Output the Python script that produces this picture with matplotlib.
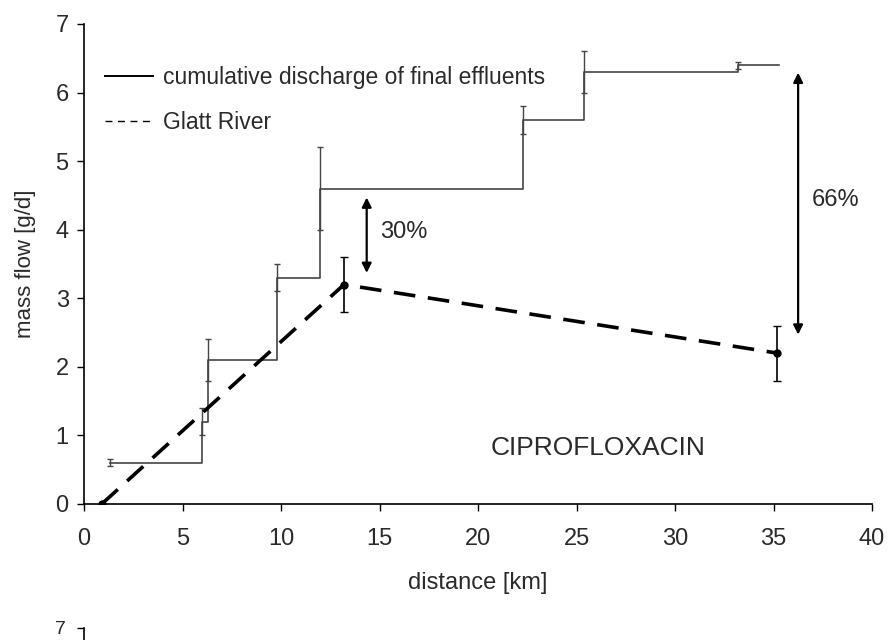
import matplotlib
matplotlib.use('Agg')
from matplotlib import pyplot as plt
from matplotlib.lines import Line2D

# cumulative discharge of final effluents (step line), sources along the river
src_km = [1.3, 6.0, 6.3, 9.8, 12.0, 22.3, 25.4, 33.2, 35.3]
cum_flow = [0.6, 1.2, 2.1, 3.3, 4.6, 5.6, 6.3, 6.4, 6.4]
cum_err = [0.05, 0.2, 0.3, 0.2, 0.6, 0.2, 0.3, 0.05, 0.0]

# Glatt River measurements
river_km = [0.9, 13.2, 35.2]
river_flow = [0.0, 3.2, 2.2]
river_err = [0.0, 0.4, 0.4]

# difference arrows: (x, y_top, y_bottom, label)
arrows = [(14.35, 4.47, 3.37, '30%'), (36.25, 6.29, 2.47, '66%')]

plt.rcParams['font.family'] = ['Liberation Sans', 'DejaVu Sans']
plt.rcParams['font.size'] = 16
txt = '#2a2a2a'

fig = plt.figure(figsize=(8.88, 6.4), dpi=100)
ax = fig.add_axes([84/888, 136/640, 788/888, 480/640])

ax.step(src_km, cum_flow, where='post', color='#444444', lw=1.2)
ax.errorbar(src_km[:-1], cum_flow[:-1], yerr=cum_err[:-1], fmt='none',
            ecolor='#444444', elinewidth=1.0, capsize=2.5, capthick=1.0)

ax.plot(river_km, river_flow, color='black', lw=2.6, dashes=(6, 3.5))
ax.errorbar(river_km[1:], river_flow[1:], yerr=river_err[1:], fmt='none',
            ecolor='black', elinewidth=1.2, capsize=3, capthick=1.0)
ax.plot(river_km, river_flow, 'o', color='black', ms=5)

for x, y1, y2, lab in arrows:
    ax.annotate('', xy=(x, y1), xytext=(x, y2),
                arrowprops=dict(arrowstyle='<|-|>', color='black', lw=1.6,
                                mutation_scale=14, shrinkA=0, shrinkB=0))
    ax.text(x + 0.7, (y1 + y2) / 2 + 0.05, lab, ha='left', va='center',
            fontsize=17, color=txt)

ax.text(26.1, 0.82, 'CIPROFLOXACIN', ha='center', va='center', fontsize=19, color=txt)

handles = [Line2D([], [], color='black', lw=1.4),
           Line2D([], [], color='black', lw=1.0, dashes=(5, 4))]
ax.legend(handles, ['cumulative discharge of final effluents', 'Glatt River'],
          loc='upper left', bbox_to_anchor=(0.0, 0.955), frameon=False,
          handlelength=2.1, handletextpad=0.45, labelspacing=0.95, fontsize=16.5,
          labelcolor=txt)

ax.set_xlim(0, 40)
ax.set_ylim(0, 7)
ax.set_xticks(range(0, 41, 5))
ax.set_yticks(range(0, 8))
for s in ['top', 'right']:
    ax.spines[s].set_visible(False)
ax.spines['left'].set_linewidth(1.2)
ax.spines['bottom'].set_linewidth(1.2)
ax.tick_params(direction='out', length=5, width=1.0, labelsize=17, labelcolor=txt)
ax.tick_params(axis='x', pad=12)
ax.tick_params(axis='y', pad=6)
ax.set_xlabel('distance [km]', fontsize=17, labelpad=16, color=txt)
ax.set_ylabel('mass flow [g/d]', fontsize=16, labelpad=14, color=txt)

# top of the next panel, cut off by the figure edge
ax2 = fig.add_axes([84/888, (12 - 480)/640, 788/888, 480/640])
ax2.set_ylim(0, 7)
ax2.set_yticks([7])
ax2.set_xticks([])
for s in ['top', 'right', 'bottom']:
    ax2.spines[s].set_visible(False)
ax2.spines['left'].set_linewidth(1.2)
ax2.tick_params(direction='out', length=5, width=1.0, labelsize=14, pad=8,
                labelcolor=txt)
ax2.patch.set_visible(False)

fig.savefig('out.png', dpi=100)
